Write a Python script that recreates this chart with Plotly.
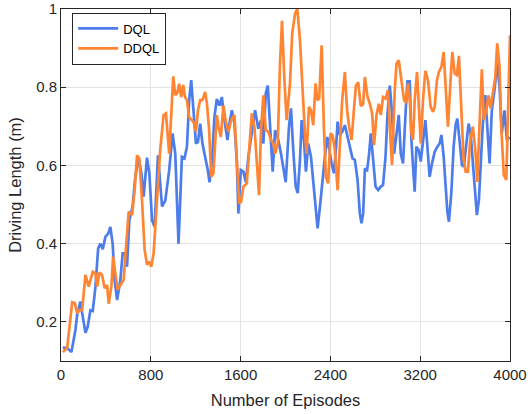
import plotly.graph_objects as go

dql_x = [16, 55, 93, 129, 144, 173, 188, 218, 238, 262, 283, 307, 331, 351, 372, 396, 420, 440, 460, 478,
         500, 529, 549, 573, 588, 609, 638, 662, 692, 716, 736, 766, 787, 811, 834, 864, 900, 929, 964, 994,
         1018, 1047, 1077, 1100, 1122, 1142, 1160, 1180, 1202, 1220, 1240, 1260, 1291, 1308, 1323, 1344, 1367, 1388, 1412, 1433,
         1456, 1483, 1500, 1522, 1545, 1566, 1580, 1602, 1625, 1646, 1669, 1700, 1729, 1758, 1782, 1803, 1824, 1842, 1862, 1886,
         1907, 1936, 1960, 1980, 2002, 2031, 2049, 2069, 2091, 2109, 2129, 2144, 2164, 2182, 2203, 2227, 2247, 2268, 2286, 2307,
         2327, 2351, 2372, 2389, 2411, 2431, 2449, 2464, 2484, 2505, 2529, 2553, 2573, 2597, 2618, 2642, 2662, 2677, 2692, 2707,
         2727, 2745, 2760, 2780, 2802, 2825, 2849, 2869, 2891, 2909, 2929, 2949, 2967, 2989, 3009, 3027, 3047, 3071, 3086, 3107,
         3122, 3136, 3151, 3166, 3187, 3205, 3225, 3246, 3264, 3284, 3305, 3329, 3353, 3373, 3389, 3409, 3427, 3442, 3456, 3477,
         3498, 3516, 3531, 3551, 3572, 3589, 3611, 3631, 3649, 3669, 3691, 3705, 3723, 3738, 3758, 3780, 3797, 3818, 3838, 3862,
         3886, 3907, 3927, 3951, 3972, 3996]
dql_y = [0.134, 0.133, 0.123, 0.18, 0.218, 0.252, 0.223, 0.172, 0.188, 0.23, 0.228, 0.29, 0.388, 0.40, 0.386, 0.418, 0.425, 0.443, 0.40, 0.307,
         0.256, 0.307, 0.375, 0.375, 0.341, 0.46, 0.495, 0.571, 0.618, 0.58, 0.52, 0.62, 0.58, 0.46, 0.443, 0.626, 0.495, 0.51, 0.588, 0.682,
         0.63, 0.40, 0.622, 0.618, 0.648, 0.767, 0.818, 0.748, 0.656, 0.66, 0.707, 0.656, 0.613, 0.588, 0.557, 0.605, 0.724, 0.77, 0.753, 0.775,
         0.716, 0.665, 0.707, 0.741, 0.707, 0.613, 0.477, 0.588, 0.584, 0.557, 0.622, 0.69, 0.741, 0.694, 0.716, 0.656, 0.784, 0.804, 0.707, 0.584,
         0.69, 0.665, 0.63, 0.595, 0.557, 0.699, 0.746, 0.639, 0.546, 0.529, 0.614, 0.716, 0.665, 0.584, 0.656, 0.622, 0.554, 0.495, 0.439, 0.495,
         0.563, 0.622, 0.673, 0.639, 0.605, 0.58, 0.639, 0.712, 0.677, 0.686, 0.703, 0.673, 0.648, 0.618, 0.614, 0.563, 0.478, 0.452, 0.478, 0.592,
         0.588, 0.63, 0.682, 0.622, 0.546, 0.537, 0.546, 0.55, 0.622, 0.733, 0.804, 0.733, 0.63, 0.68, 0.729, 0.63, 0.605, 0.741, 0.815, 0.815,
         0.665, 0.597, 0.533, 0.648, 0.639, 0.61, 0.665, 0.716, 0.648, 0.571, 0.605, 0.635, 0.648, 0.656, 0.678, 0.623, 0.546, 0.482, 0.456, 0.529,
         0.648, 0.704, 0.72, 0.665, 0.601, 0.597, 0.648, 0.707, 0.682, 0.614, 0.529, 0.473, 0.512, 0.614, 0.707, 0.78, 0.699, 0.605, 0.741, 0.793,
         0.861, 0.80, 0.682, 0.741, 0.665, 0.673]

ddql_x = [16, 55, 76, 100, 123, 144, 164, 188, 218, 247, 283, 307, 322, 342, 366, 389, 411, 425, 449, 464,
          484, 505, 529, 558, 580, 603, 633, 656, 677, 698, 722, 745, 766, 787, 804, 825, 855, 884, 914, 935,
          964, 988, 1000, 1018, 1036, 1053, 1071, 1089, 1104, 1122, 1142, 1166, 1189, 1202, 1220, 1240, 1260, 1284, 1300, 1320,
          1338, 1358, 1373, 1388, 1403, 1424, 1447, 1468, 1492, 1516, 1545, 1566, 1587, 1604, 1625, 1655, 1676, 1700, 1723, 1744,
          1764, 1782, 1803, 1824, 1847, 1871, 1892, 1907, 1931, 1951, 1969, 1989, 2010, 2040, 2060, 2085, 2105, 2129, 2149, 2173,
          2188, 2209, 2227, 2247, 2268, 2283, 2300, 2322, 2342, 2360, 2380, 2402, 2420, 2440, 2464, 2484, 2505, 2529, 2549, 2567,
          2589, 2609, 2627, 2647, 2671, 2692, 2707, 2731, 2751, 2772, 2789, 2811, 2831, 2849, 2869, 2891, 2914, 2929, 2949, 2973,
          2989, 3009, 3033, 3056, 3077, 3092, 3107, 3122, 3136, 3151, 3172, 3187, 3205, 3225, 3246, 3269, 3293, 3314, 3329, 3349,
          3367, 3389, 3409, 3427, 3447, 3469, 3486, 3507, 3527, 3545, 3566, 3587, 3605, 3625, 3646, 3669, 3691, 3709, 3729, 3749,
          3767, 3789, 3809, 3827, 3847, 3869, 3886, 3907, 3922, 3945, 3967, 3987, 4000]
ddql_y = [0.123, 0.133, 0.188, 0.25, 0.248, 0.222, 0.23, 0.23, 0.32, 0.29, 0.328, 0.324, 0.29, 0.326, 0.32, 0.286, 0.294, 0.246, 0.29, 0.367,
          0.324, 0.282, 0.294, 0.307, 0.392, 0.482, 0.473, 0.537, 0.626, 0.618, 0.51, 0.384, 0.346, 0.354, 0.341, 0.375, 0.51, 0.64, 0.729, 0.733,
          0.63, 0.767, 0.828, 0.78, 0.785, 0.809, 0.775, 0.806, 0.775, 0.767, 0.723, 0.716, 0.707, 0.686, 0.741, 0.767, 0.767, 0.788, 0.758, 0.69,
          0.571, 0.58, 0.665, 0.729, 0.699, 0.673, 0.753, 0.712, 0.686, 0.716, 0.729, 0.605, 0.503, 0.507, 0.546, 0.554, 0.648, 0.733, 0.699, 0.595,
          0.524, 0.69, 0.779, 0.69, 0.686, 0.665, 0.656, 0.63, 0.656, 0.86, 0.97, 0.826, 0.716, 0.81, 0.937, 0.988, 1.0, 0.92, 0.80, 0.682,
          0.63, 0.75, 0.741, 0.703, 0.81, 0.767, 0.771, 0.907, 0.699, 0.571, 0.554, 0.682, 0.677, 0.639, 0.537, 0.665, 0.767, 0.839, 0.741, 0.699,
          0.665, 0.741, 0.804, 0.813, 0.752, 0.757, 0.826, 0.775, 0.758, 0.733, 0.652, 0.729, 0.758, 0.729, 0.775, 0.771, 0.793, 0.699, 0.601, 0.79,
          0.861, 0.869, 0.818, 0.767, 0.76, 0.81, 0.767, 0.682, 0.665, 0.767, 0.839, 0.75, 0.656, 0.767, 0.842, 0.818, 0.75, 0.737, 0.75, 0.818,
          0.839, 0.852, 0.89, 0.80, 0.699, 0.81, 0.89, 0.835, 0.831, 0.88, 0.741, 0.614, 0.584, 0.584, 0.665, 0.699, 0.639, 0.558, 0.707, 0.846,
          0.716, 0.741, 0.779, 0.746, 0.784, 0.826, 0.912, 0.852, 0.699, 0.575, 0.563, 0.80, 0.933]

x_ticks = [0, 800, 1600, 2400, 3200, 4000]
y_ticks = [0.2, 0.4, 0.6, 0.8, 1.0]
y_tick_labels = ["0.2", "0.4", "0.6", "0.8", "1"]

BLUE = "#4D7DEB"
ORANGE = "#FF8533"
AX = "#262626"
FONT = "Liberation Sans, Arial, sans-serif"

fig = go.Figure()
fig.add_trace(go.Scatter(x=dql_x, y=dql_y, mode="lines", name="DQL",
                         line=dict(color=BLUE, width=2.7)))
fig.add_trace(go.Scatter(x=ddql_x, y=ddql_y, mode="lines", name="DDQL",
                         line=dict(color=ORANGE, width=2.7)))

axis_common = dict(showline=True, linecolor=AX, linewidth=1, mirror="ticks",
                   ticks="inside", ticklen=5, tickwidth=1, tickcolor=AX,
                   showgrid=True, gridcolor="#E3E3E3", gridwidth=1, zeroline=False,
                   automargin=False,
                   tickfont=dict(family=FONT, size=15, color=AX))

fig.update_xaxes(range=[0, 4000], tickvals=x_ticks, ticktext=[str(v) for v in x_ticks],
                 title=dict(text="Number of Episodes", font=dict(family=FONT, size=16.5, color=AX), standoff=12),
                 **axis_common)
fig.update_yaxes(range=[0.1, 1.0], tickvals=y_ticks, ticktext=y_tick_labels,
                 title=dict(text="Driving Length (m)", font=dict(family=FONT, size=16.5, color=AX), standoff=10),
                 **axis_common)

fig.update_layout(
    width=530, height=414,
    margin=dict(l=60.5, r=19.5, t=9.3, b=53, autoexpand=False),
    paper_bgcolor="white", plot_bgcolor="white",
    font=dict(family=FONT, size=14, color=AX),
    showlegend=True,
    legend=dict(x=0.025, y=0.99, xanchor="left", yanchor="top",
                bgcolor="white", bordercolor=AX, borderwidth=1,
                font=dict(family=FONT, size=13, color="#000000"),
                itemwidth=40, tracegroupgap=0),
)

fig.write_html("out.html")
